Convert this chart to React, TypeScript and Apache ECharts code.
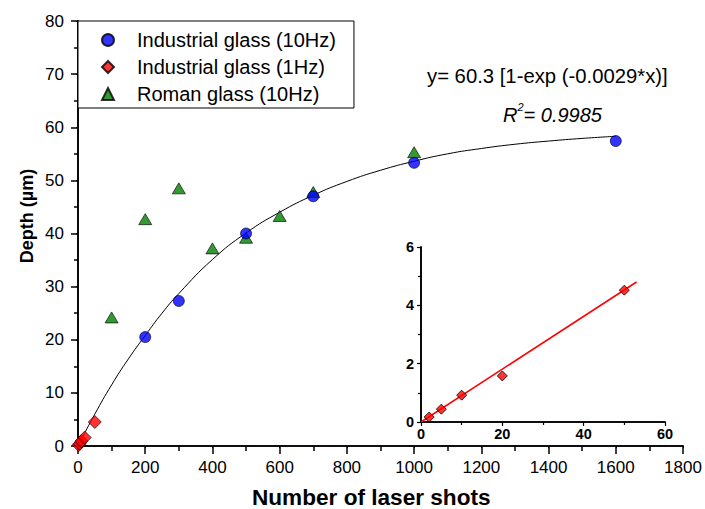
import React, { useEffect, useRef } from "react";
import * as echarts from "echarts";

// ---- data ----
const ind10X = [200, 300, 500, 700, 1000, 1600];
const ind10Y = [20.5, 27.3, 40.0, 47.0, 53.3, 57.4];

const ind1X = [2, 5, 10, 20, 50];
const ind1Y = [0.17, 0.44, 0.92, 1.58, 4.52];

const romanX = [100, 200, 300, 400, 500, 600, 700, 1000];
const romanY = [24.2, 42.7, 48.5, 37.2, 39.2, 43.3, 47.8, 55.3];

// fitted curve as drawn in the reference
const fitX = [0, 50, 100, 150, 200, 250, 300, 400, 500, 600, 700, 800, 900, 1000, 1100, 1200, 1300, 1400, 1500, 1600];
const fitY = [0, 6.0, 11.5, 16.4, 20.8, 25.0, 28.7, 35.1, 40.1, 44.0, 47.2, 49.8, 51.9, 53.6, 55.0, 56.0, 56.8, 57.4, 57.9, 58.3];

// inset linear fit endpoints
const insetFitX = [0, 53];
const insetFitY = [0, 4.8];

const mainXTicks = { min: 0, max: 1800, interval: 200 };
const mainYTicks = { min: 0, max: 80, interval: 10 };
const insetXTicks = { min: 0, max: 60, interval: 20 };
const insetYTicks = { min: 0, max: 6, interval: 2 };

const legendNames = ["Industrial glass (10Hz)", "Industrial glass (1Hz)", "Roman glass (10Hz)"];

const FONT = "'Liberation Sans', Arial, Helvetica, sans-serif";

export default function App() {
  const ref = useRef<HTMLDivElement>(null);

  useEffect(() => {
    if (!ref.current) return;
    const chart = echarts.init(ref.current, null, { renderer: "svg" });

    const zip = (xs: number[], ys: number[]) => xs.map((x, i) => [x, ys[i]]);
    const plain = (v: number) => String(v);

    const axisLine = { show: true, lineStyle: { color: "#000", width: 1.6 } };
    const mainLabel = { color: "#000", fontSize: 17, fontFamily: FONT, formatter: plain };
    const insetLabel = { color: "#000", fontSize: 14.5, fontWeight: "bold", fontFamily: FONT, formatter: plain };

    const option: any = {
      animation: false,
      backgroundColor: "#fff",
      textStyle: { fontFamily: FONT },
      grid: [
        { left: 78, top: 21, right: 22, bottom: 63, show: false },
        { left: 421, top: 247, right: 40, bottom: 87, show: false },
      ],
      xAxis: [
        {
          type: "value", gridIndex: 0, position: "bottom", ...mainXTicks,
          axisLine, splitLine: { show: false },
          axisTick: { show: true, inside: false, length: 8, lineStyle: { color: "#000", width: 1.5 } },
          minorTick: { show: true, splitNumber: 2, length: 5, lineStyle: { color: "#000", width: 1.5 } },
          axisLabel: { ...mainLabel, margin: 13 },
        },
        {
          type: "value", gridIndex: 0, position: "top", ...mainXTicks,
          axisLine, splitLine: { show: false },
          axisTick: { show: true, inside: true, length: 2, lineStyle: { color: "#000" } },
          axisLabel: { show: false },
        },
        {
          type: "value", gridIndex: 1, position: "bottom", ...insetXTicks,
          axisLine, splitLine: { show: false },
          axisTick: { show: true, inside: false, length: 4, lineStyle: { color: "#000", width: 1.2 } },
          minorTick: { show: true, splitNumber: 2, length: 3, lineStyle: { color: "#000", width: 1.2 } },
          axisLabel: { ...insetLabel, margin: 4 },
        },
        {
          type: "value", gridIndex: 1, position: "top", ...insetXTicks,
          axisLine, splitLine: { show: false },
          axisTick: { show: false },
          axisLabel: { show: false },
        },
      ],
      yAxis: [
        {
          type: "value", gridIndex: 0, position: "left", ...mainYTicks,
          axisLine, splitLine: { show: false },
          axisTick: { show: true, inside: false, length: 7, lineStyle: { color: "#000", width: 1.5 } },
          minorTick: { show: true, splitNumber: 2, length: 4, lineStyle: { color: "#000", width: 1.5 } },
          axisLabel: { ...mainLabel, margin: 14 },
        },
        {
          type: "value", gridIndex: 0, position: "right", ...mainYTicks,
          axisLine, splitLine: { show: false },
          axisTick: { show: true, inside: true, length: 2, lineStyle: { color: "#000" } },
          axisLabel: { show: false },
        },
        {
          type: "value", gridIndex: 1, position: "left", ...insetYTicks,
          axisLine, splitLine: { show: false },
          axisTick: { show: true, inside: false, length: 4, lineStyle: { color: "#000", width: 1.2 } },
          minorTick: { show: true, splitNumber: 2, length: 3, lineStyle: { color: "#000", width: 1.2 } },
          axisLabel: { ...insetLabel, margin: 7 },
        },
        {
          type: "value", gridIndex: 1, position: "right", ...insetYTicks,
          axisLine, splitLine: { show: false },
          axisTick: { show: false },
          axisLabel: { show: false },
        },
      ],
      legend: {
        data: legendNames,
        orient: "vertical",
        left: 78,
        top: 21,
        padding: [9, 18, 4, 23],
        itemGap: 7,
        itemWidth: 12,
        itemHeight: 12,
        borderColor: "#000",
        borderWidth: 1,
        backgroundColor: "#fff",
        selectedMode: false,
        textStyle: { color: "#000", fontSize: 20, fontFamily: FONT, lineHeight: 20, padding: [0, 0, 0, 18] },
      },
      graphic: [
        {
          type: "text", left: 427, top: 66,
          style: { text: "y= 60.3 [1-exp (-0.0029*x)]", fontSize: 20.3, fontFamily: FONT, fill: "#000" },
        },
        {
          type: "text", left: 503, top: 101,
          style: {
            text: "{i|R}{s|2}{i|= 0.9985}",
            fontFamily: FONT,
            fill: "#000",
            rich: {
              i: { fontSize: 20, fontStyle: "italic", fontFamily: FONT, fill: "#000", verticalAlign: "bottom", lineHeight: 24 },
              s: { fontSize: 11, fontStyle: "italic", fontFamily: FONT, fill: "#000", verticalAlign: "top", lineHeight: 24, padding: [0, 0, 10, 0] },
            },
          },
        },
        {
          type: "text", left: 252, top: 486,
          style: { text: "Number of laser shots", fontSize: 22.6, fontWeight: "bold", fontFamily: FONT, fill: "#000" },
        },
        {
          type: "text", x: 27, y: 216, rotation: Math.PI / 2,
          style: { text: "Depth (µm)", fontSize: 18, fontWeight: "bold", fontFamily: FONT, fill: "#000", align: "center", verticalAlign: "middle" },
        },
      ],
      series: [
        {
          name: "fit", type: "line", xAxisIndex: 0, yAxisIndex: 0, data: zip(fitX, fitY),
          showSymbol: false, smooth: true, lineStyle: { color: "#000", width: 1 }, z: 1, silent: true,
        },
        {
          name: "Roman glass (10Hz)", type: "scatter", xAxisIndex: 0, yAxisIndex: 0,
          data: zip(romanX, romanY), symbol: "triangle", symbolSize: [13, 11],
          itemStyle: { color: "#008000", borderColor: "#000", borderWidth: 0.8 }, z: 2,
        },
        {
          name: "Industrial glass (10Hz)", type: "scatter", xAxisIndex: 0, yAxisIndex: 0,
          data: zip(ind10X, ind10Y), symbol: "circle", symbolSize: 11,
          itemStyle: { color: "#0000ff", borderColor: "#000", borderWidth: 0.8 }, z: 3,
        },
        {
          name: "Industrial glass (1Hz)", type: "scatter", xAxisIndex: 0, yAxisIndex: 0,
          data: zip(ind1X, ind1Y), symbol: "diamond", symbolSize: 13,
          itemStyle: { color: "#ff0000", borderColor: "#000", borderWidth: 0.8 }, z: 4,
        },
        {
          name: "inset fit", type: "line", xAxisIndex: 2, yAxisIndex: 2, data: zip(insetFitX, insetFitY),
          showSymbol: false, lineStyle: { color: "#ff0000", width: 1.5 }, z: 1, silent: true,
        },
        {
          name: "inset 1Hz", type: "scatter", xAxisIndex: 2, yAxisIndex: 2,
          data: zip(ind1X, ind1Y), symbol: "diamond", symbolSize: 10,
          itemStyle: { color: "#ff0000", borderColor: "#000", borderWidth: 1 }, z: 3,
        },
      ],
    };

    chart.setOption(option);
    return () => chart.dispose();
  }, []);

  return (
    <div
      ref={ref}
      style={{ position: "fixed", left: 0, top: 0, width: 705, height: 509, background: "#fff" }}
    />
  );
}
